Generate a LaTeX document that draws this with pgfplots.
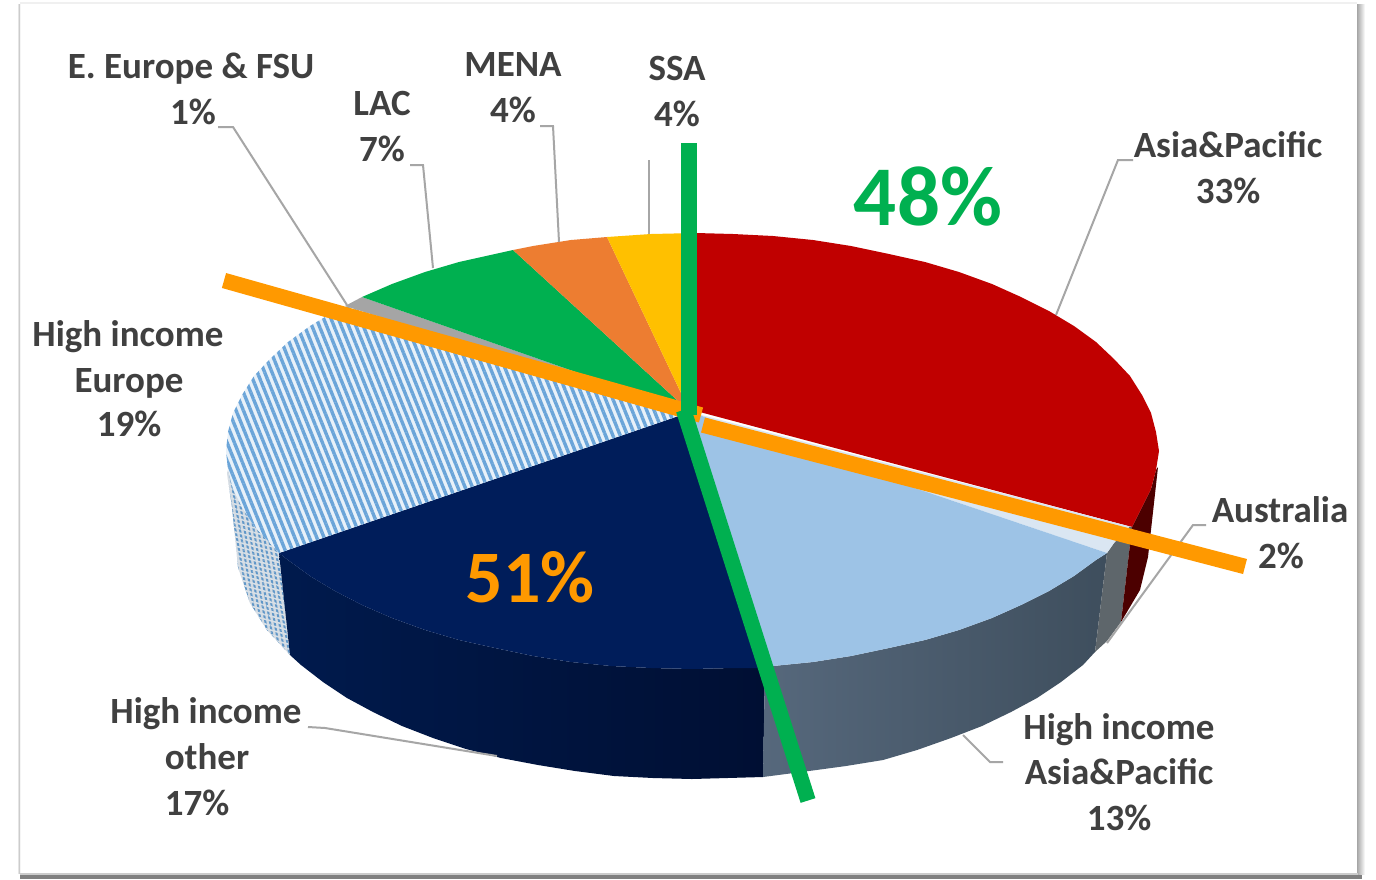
\documentclass[border=0pt]{standalone}
\usepackage{pgfplots}
\pgfplotsset{compat=1.18}
\usepackage{fontspec}
\setmainfont{Carlito}
\usetikzlibrary{patterns.meta}
\definecolor{lbl}{HTML}{404040}
\definecolor{ldr}{HTML}{A6A6A6}
\definecolor{cgreen}{HTML}{00B050}
\definecolor{corange}{HTML}{FF9900}
\definecolor{hatchb}{HTML}{5B9BD5}
\definecolor{navyL}{HTML}{001A4D}
\definecolor{navyD}{HTML}{000F33}
\definecolor{slateL}{HTML}{56687C}
\definecolor{slateD}{HTML}{3E4E5D}
\definecolor{graywall}{HTML}{5E666B}
\definecolor{darkred}{HTML}{4C0000}
\definecolor{cred}{HTML}{C00000}
\definecolor{caus}{HTML}{DAE6F2}
\definecolor{clb}{HTML}{9DC3E6}
\definecolor{cnavy}{HTML}{001D5A}
\definecolor{chl}{HTML}{E8F1F9}
\definecolor{cgr}{HTML}{A5A5A5}
\definecolor{cor}{HTML}{ED7D31}
\definecolor{cyl}{HTML}{FFC000}
\begin{document}
\begin{tikzpicture}
\begin{axis}[
  scale only axis, width=1376pt, height=879pt,
  xmin=0, xmax=1376, ymin=0, ymax=879, y dir=reverse,
  hide axis, clip=true,
]
% full canvas
\addplot[draw=none, fill=white] coordinates {(0,0)(1376,0)(1376,879)(0,879)} --cycle;
% frame and shadow
\addplot[draw=none, left color=white, right color=black!30] coordinates {(17,4)(20,4)(20,873)(17,873)} --cycle;
\addplot[draw=none, fill=black!6] coordinates {(20,2)(1357,2)(1357,4)(20,4)} --cycle;
\addplot[draw=none, left color=black!35, right color=white] coordinates {(1357,4)(1365,4)(1365,874)(1357,874)} --cycle;
\addplot[draw=none, fill=black!20] coordinates {(20,873)(1358,873)(1358,875)(20,875)} --cycle;
\addplot[draw=none, fill=black!50] coordinates {(20,875)(1362,875)(1362,879)(20,879)} --cycle;
% side walls
\addplot[draw=none, fill=chl!80!gray] coordinates {(227,473)(232,507)(238,567)(250,603)(267,630)(290,655)(279,553)(270,543)(254,526)(242,507)(228,470)} --cycle;
\addplot[draw=none, pattern={Lines[angle=100,distance=4.5pt,line width=2pt]}, pattern color=hatchb!85!gray] coordinates {(227,473)(232,507)(238,567)(250,603)(267,630)(290,655)(279,553)(270,543)(254,526)(242,507)(228,470)} --cycle;
\addplot[draw=none, pattern={Lines[angle=165,distance=4.5pt,line width=1.6pt]}, pattern color=chl!85!gray] coordinates {(227,473)(232,507)(238,567)(250,603)(267,630)(290,655)(279,553)(270,543)(254,526)(242,507)(228,470)} --cycle;
\addplot[draw=none, left color=navyL, right color=navyD] coordinates {(279,553)(290,655)(301,665)(323,682)(347,698)(373,712)(402,726)(433,738)(466,749)(501,758)(538,765)(575,771)(614,776)(653,778)(692,779)(763,777)(765,668)(733,668)(692,669)(651,668)(611,666)(571,662)(533,656)(495,648)(459,640)(425,630)(392,618)(362,605)(335,591)(310,576)(288,560)} --cycle;
\addplot[draw=none, left color=slateL, right color=slateD] coordinates {(765,668)(763,777)(809,771)(846,766)(883,760)(917,750)(951,738)(982,726)(1011,712)(1037,698)(1061,682)(1083,665)(1095,652)(1107,553)(1096,560)(1074,576)(1049,591)(1021,605)(992,618)(959,630)(925,640)(889,648)(851,656)(813,662)(773,666)} --cycle;
\addplot[draw=none, fill=graywall] coordinates {(1107,553)(1095,652)(1107,641)(1121,622)(1132,527)(1130,526)(1114,543)} --cycle;
\addplot[draw=none, fill=darkred] coordinates {(1132,527)(1121,622)(1140,590)(1148,557)(1158,467)(1156,470)(1151,489)(1142,507)} --cycle;
% top faces
\addplot[draw=none, fill=cred] coordinates {(696,411)(696,233)(733,234)(773,236)(813,240)(851,246)(889,254)(925,262)(959,272)(992,284)(1021,297)(1049,311)(1074,326)(1096,342)(1114,359)(1130,376)(1142,395)(1151,413)(1156,432)(1159,451)(1156,470)(1151,489)(1142,507)(1132,527)} --cycle;
\addplot[draw=none, fill=caus] coordinates {(690,412)(1132,527)(1130,526)(1114,543)(1107,553)} --cycle;
\addplot[draw=none, fill=clb] coordinates {(690,412)(1107,553)(1096,560)(1074,576)(1049,591)(1021,605)(992,618)(959,630)(925,640)(889,648)(851,656)(813,662)(773,666)(765,667)} --cycle;
\addplot[draw=none, fill=cnavy] coordinates {(690,412)(765,668)(733,668)(692,669)(651,668)(611,666)(571,662)(533,656)(495,648)(459,640)(425,630)(392,618)(362,605)(335,591)(310,576)(288,560)(279,553)} --cycle;
\addplot[draw=none, fill=chl] coordinates {(690,412)(279,553)(270,543)(254,526)(242,507)(233,489)(228,470)(226,451)(228,432)(233,413)(242,395)(254,376)(270,359)(288,342)(310,326)(335,311)(345,306)} --cycle;
\addplot[draw=none, pattern={Lines[angle=112,distance=6.8pt,line width=3.4pt]}, pattern color=hatchb!90!white] coordinates {(690,412)(279,553)(270,543)(254,526)(242,507)(233,489)(228,470)(226,451)(228,432)(233,413)(242,395)(254,376)(270,359)(288,342)(310,326)(335,311)(345,306)} --cycle;
\addplot[draw=none, fill=cgr] coordinates {(690,412)(345,306)(362,297)} --cycle;
\addplot[draw=none, fill=cgreen] coordinates {(690,412)(362,297)(392,284)(425,272)(459,262)(495,254)(513,250)} --cycle;
\addplot[draw=none, fill=cor] coordinates {(690,412)(513,250)(533,246)(571,240)(607,237)} --cycle;
\addplot[draw=none, fill=cyl] coordinates {(690,412)(607,237)(651,234)(696,233)(696,411)} --cycle;
% leaders
\addplot[ldr, line width=2pt] coordinates {(218,127)(233,127)(347,305)};
\addplot[ldr, line width=2pt] coordinates {(410,165)(423,165)(433,268)};
\addplot[ldr, line width=2pt] coordinates {(540,126)(553,126)(559,242)};
\addplot[ldr, line width=2pt] coordinates {(649,160)(649,234)};
\addplot[ldr, line width=2pt] coordinates {(1133,160)(1118,160)(1056,315)};
\addplot[ldr, line width=2pt] coordinates {(1206,525)(1193,525)(1107,643)};
\addplot[ldr, line width=2pt] coordinates {(1003,762)(990,762)(963,735)};
\addplot[ldr, line width=2pt] coordinates {(308,727)(325,728)(497,756)};
% overlay lines
\addplot[corange, line width=15.5pt] coordinates {(224,280.5)(701,415)};
\addplot[corange, line width=15.5pt] coordinates {(703,425)(1245,566.5)};
\addplot[cgreen, line width=15.5pt] coordinates {(689,143)(689,415)};
\addplot[cgreen, line width=15.5pt] coordinates {(683.6,410)(808,800.5)};
% labels
\tikzset{lab/.style={anchor=base, font=\fontsize{37}{37}\selectfont\bfseries, inner sep=0pt, text=lbl}}
\node[lab] at (axis cs:191,78) {E. Europe \& FSU};
\node[lab] at (axis cs:193,124) {1\%};
\node[lab] at (axis cs:382,115) {LAC};
\node[lab] at (axis cs:382,161) {7\%};
\node[lab] at (axis cs:513,76) {MENA};
\node[lab] at (axis cs:513,122) {4\%};
\node[lab] at (axis cs:677,80) {SSA};
\node[lab] at (axis cs:677,126) {4\%};
\node[lab] at (axis cs:1228,157) {Asia\&Pacific};
\node[lab] at (axis cs:1228,203) {33\%};
\node[lab] at (axis cs:1280,522) {Australia};
\node[lab] at (axis cs:1281,568) {2\%};
\node[lab] at (axis cs:1119,739) {High income};
\node[lab] at (axis cs:1119,784) {Asia\&Pacific};
\node[lab] at (axis cs:1119,830) {13\%};
\node[lab] at (axis cs:206,723) {High income};
\node[lab] at (axis cs:207,769) {other};
\node[lab] at (axis cs:197,815) {17\%};
\node[lab] at (axis cs:128,346) {High income};
\node[lab] at (axis cs:129,392) {Europe};
\node[lab] at (axis cs:129,436) {19\%};
\node[anchor=base, inner sep=0pt, text=cgreen, font=\fontsize{85}{85}\selectfont\bfseries] at (axis cs:928,225) {48\%};
\node[anchor=base, inner sep=0pt, text=corange, font=\fontsize{74}{74}\selectfont\bfseries] at (axis cs:530,602) {51\%};
\end{axis}
\end{tikzpicture}
\end{document}
